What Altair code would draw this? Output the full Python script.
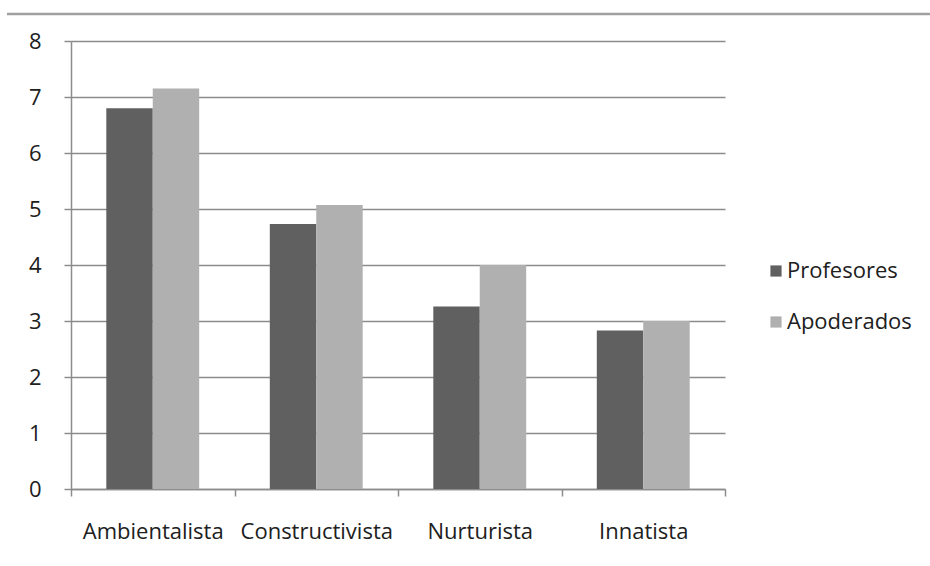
import altair as alt
import pandas as pd

categories = ["Ambientalista", "Constructivista", "Nurturista", "Innatista"]
series = ["Profesores", "Apoderados"]
profesores = [6.80, 4.73, 3.26, 2.83]
apoderados = [7.15, 5.07, 4.00, 3.00]
y_ticks = [0, 1, 2, 3, 4, 5, 6, 7, 8]

rows = []
for c, p, a in zip(categories, profesores, apoderados):
    rows.append({"cat": c, "serie": "Profesores", "valor": p})
    rows.append({"cat": c, "serie": "Apoderados", "valor": a})
df = pd.DataFrame(rows)

FONT = "Open Sans"
TXT = "#202020"
GRID = "#8c8c8c"

bars = alt.Chart(df).mark_bar(stroke=None).encode(
    x=alt.X("cat:N", sort=categories, title=None,
            scale=alt.Scale(paddingInner=0, paddingOuter=0),
            axis=alt.Axis(tickBand="extent", labelAngle=0, labelFontSize=22,
                          labelFont=FONT, labelColor=TXT, labelPadding=25,
                          tickSize=7, tickColor=GRID, domainColor=GRID,
                          domainWidth=1.5, tickWidth=1.5, grid=False)),
    xOffset=alt.XOffset("serie:N", sort=series,
                        scale=alt.Scale(paddingInner=0, paddingOuter=0.76)),
    y=alt.Y("valor:Q", title=None,
            scale=alt.Scale(domain=[0, 8], nice=False),
            axis=alt.Axis(values=y_ticks, labelFontSize=22, labelFont=FONT,
                          labelColor=TXT, labelPadding=23, tickSize=7,
                          tickColor=GRID, domainColor=GRID, domainWidth=1.5,
                          tickWidth=1.5, grid=True, gridColor=GRID,
                          gridWidth=1.5)),
    color=alt.Color("serie:N", sort=series, title=None,
                    scale=alt.Scale(domain=series, range=["#606060", "#b0b0b0"]),
                    legend=alt.Legend(orient="none", legendX=694, legendY=219,
                                      symbolType="square", symbolSize=125,
                                      symbolStrokeWidth=0, labelFontSize=22,
                                      labelFont=FONT, labelColor=TXT,
                                      rowPadding=29, labelOffset=0, padding=0)),
)

top_line = alt.Chart(pd.DataFrame({"k": [0]})).mark_rule(
    color="#a0a0a0", strokeWidth=2.5, clip=False
).encode(x=alt.value(-64), x2=alt.value(859), y=alt.value(-27))

chart = alt.layer(bars, top_line).properties(
    width=654, height=448,
    autosize=alt.AutoSizeParams(type="none"),
    padding={"left": 71, "top": 41, "right": 205, "bottom": 77},
    background="white",
).configure_view(stroke=None)

chart.save("out.html", embed_options={"renderer": "svg", "actions": False})
